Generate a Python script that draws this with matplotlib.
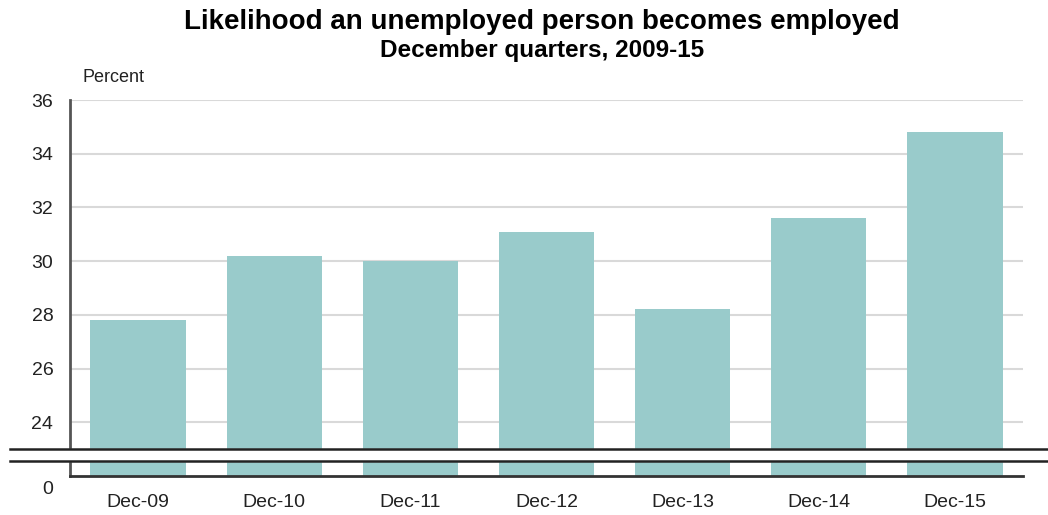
import matplotlib.pyplot as plt
import matplotlib.transforms as mtransforms

plt.rcParams['font.family'] = ['Liberation Sans', 'DejaVu Sans']

# data
quarters = ["Dec-09", "Dec-10", "Dec-11", "Dec-12", "Dec-13", "Dec-14", "Dec-15"]
percent = [27.8, 30.2, 30.0, 31.1, 28.2, 31.6, 34.8]
tick_vals = [22, 24, 26, 28, 30, 32, 34, 36]
tick_labels = ["0", "24", "26", "28", "30", "32", "34", "36"]

fig = plt.figure(figsize=(10.48, 5.15), dpi=100)
ax = fig.add_axes([70 / 1048, 1 - 476 / 515, 953 / 1048, 376 / 515])

x = range(len(quarters))
ax.bar(x, percent, width=0.7, color="#99CBCB", zorder=2)

ax.set_xlim(-0.5, len(quarters) - 0.5)
ax.set_ylim(22, 36)
ax.set_xticks(list(x))
ax.set_xticklabels(quarters, fontsize=14, color="#222222")
ax.set_yticks(tick_vals)
ax.set_yticklabels(tick_labels, fontsize=14, color="#222222")
ax.tick_params(length=0)
ax.tick_params(axis="y", pad=12)
ax.tick_params(axis="x", pad=13)

# push the "0" label a bit below the axis line
lbl0 = ax.get_yticklabels()[0]
lbl0.set_transform(lbl0.get_transform() + mtransforms.ScaledTranslation(0, -8 / 72, fig.dpi_scale_trans))

for v in tick_vals[1:]:
    ax.axhline(v, color="#d9d9d9", lw=1.5, zorder=1)

for s in ["top", "right"]:
    ax.spines[s].set_visible(False)
ax.spines["left"].set_color("#555555")
ax.spines["left"].set_linewidth(2)
ax.spines["bottom"].set_color("#333333")
ax.spines["bottom"].set_linewidth(2)

# axis break
ax.axhspan(22.55, 23.0, xmin=-0.01, xmax=1.03, color="white", zorder=4, clip_on=False)
trans = mtransforms.blended_transform_factory(ax.transAxes, ax.transData)
for yb in [22.55, 23.0]:
    ax.plot([-0.063, 1.03], [yb, yb], color="#222222", lw=1.8, transform=trans,
            clip_on=False, zorder=5)

fig.text(82 / 1048, 1 - 78 / 515, "Percent", fontsize=13, color="#222222", va="center")
fig.text(0.517, 1 - 22 / 515, "Likelihood an unemployed person becomes employed",
         fontsize=20, fontweight="bold", ha="center", va="center")
fig.text(0.517, 1 - 51 / 515, "December quarters, 2009-15",
         fontsize=17.5, fontweight="bold", ha="center", va="center")

fig.savefig("out.png", dpi=100)
